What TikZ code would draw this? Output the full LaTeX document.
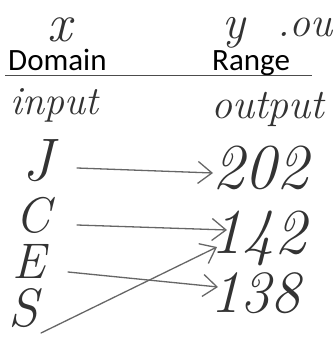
\documentclass[tikz,border=0pt]{standalone}
\usepackage{fontspec}
\newfontfamily\calib{Carlito}
\usetikzlibrary{arrows.meta,calc}
\begin{document}
\begin{tikzpicture}[x=1pt,y=-1pt,
  hw/.style={font=\fontsize{#1}{#1}\selectfont\itshape, text=black!80, inner sep=0pt, anchor=base west},
  head/.style={font=\fontsize{31}{31}\selectfont\calib, text=black, inner sep=0pt, anchor=base west},
  arr/.style={draw=black!60, line width=1.3pt, line cap=round,
    -{Straight Barb[length=14pt,width=22pt,line width=1.3pt]}}]
\useasboundingbox (0,0) rectangle (336,339);
% top labels
\node[hw=54] (x) at (47,42) {x};
\node[hw=48] (y) at (222,39) {y};
\node[hw=42] (ou) at (277,37) {.ou};
% headers
\node[head] (dom) at (8,71) {Domain};
\node[head] (ran) at (212,71) {Range};
\coordinate (l1) at (5,75);
\coordinate (l2) at (312,75);
\draw[black!70, line width=0.9pt] (l1) -- (l2);
\node[hw=40] (in) at (10,114) {input};
\node[hw=42] (out) at (211,118) {output};
% domain
\node[hw=60] (J) at (22,180) {J};
\node[hw=50] (C) at (15,232) {C};
\node[hw=50] (E) at (12,278) {E};
\node[hw=54] (S) at (8,326) {S};
% range
\node[hw=64] (a) at (212,188) {202};
\node[hw=64] (b) at (210,253) {142};
\node[hw=60] (c) at (210,312) {138};
% arrows
\draw[arr] ($(J.base west)+(55,-12)$) -- ($(a.base west)+(1,-15)$);
\draw[arr] ($(C.base west)+(62,-7)$) -- ($(b.base west)+(17,-23)$);
\draw[arr] ($(E.base west)+(56,-6)$) -- ($(c.base west)+(8,-25)$);
\draw[arr] ($(S.base west)+(33,7)$) -- ($(b.base west)+(7,-6)$);
\end{tikzpicture}
\end{document}
